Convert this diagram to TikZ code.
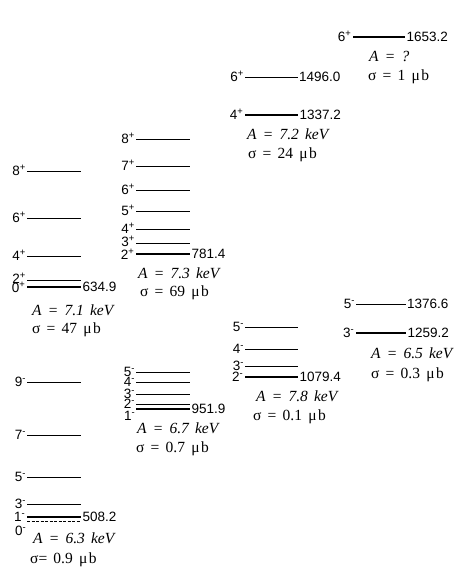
\documentclass[tikz,border=0pt]{standalone}
\usepackage{fontspec}
\setmainfont{Liberation Sans}
\newfontfamily\tms{Liberation Serif}
\usetikzlibrary{positioning}
\tikzset{
  lvl/.style={line width=0.9pt},
  band/.style={line width=2.1pt},
  spin/.style={anchor=base east,yshift=-4.9pt,inner sep=0.6pt,font=\fontsize{13.5}{15}\selectfont},
  en/.style={anchor=base west,yshift=-4.9pt,inner sep=0.6pt,font=\fontsize{13.5}{15}\selectfont},
  par/.style={anchor=west,inner sep=0pt,font=\tms\fontsize{15.5}{17}\selectfont,
    execute at begin node={\spaceskip=0.4em\relax}},
}

\begin{document}
\begin{tikzpicture}[x=1pt,y=-1pt]
  \useasboundingbox (0,0) rectangle (463,569);
  % column 1
  \foreach \y/\j in {171/8,218/6,256/4}
    \draw[lvl] (27,\y) node[spin] (ap\j) {\j\textsuperscript{+}} -- (81,\y);
  \draw[lvl] (27,280) node[spin,yshift=1.5pt] (ap2) {2\textsuperscript{+}} -- (81,280);
  \draw[band] (27,287) node[spin,yshift=-1pt] (ap0) {0\textsuperscript{+}} -- (81,287) node[en] (eap) {634.9};
  \node[par] (aap) at (32,310) {\itshape A = 7.1 keV};
  \node[par] (sap) at (32,330) {σ = 47 μ\kern1.5pt b};
  \foreach \y/\j in {382/9,435/7,477/5,504/3}
    \draw[lvl] (27,\y) node[spin] (am\j) {\j\textsuperscript{-}} -- (81,\y);
  \draw[band] (27,517) node[spin] (am1) {1\textsuperscript{-}} -- (81,517) node[en] (eam) {508.2};
  \draw[lvl,dash pattern=on 3pt off 1.5pt] (27,521.5) -- (81,521.5);
  \node[spin] (am0) at (27,531) {0\textsuperscript{-}};
  \node[par] (aam) at (33,538) {\itshape A = 6.3 keV};
  \node[par] (sam) at (30,560) {σ= 0.9 μ\kern1.5pt b};
  % column 2
  \foreach \y/\j in {139/8,166/7,190/6,211/5,229/4}
    \draw[lvl] (136,\y) node[spin] (bp\j) {\j\textsuperscript{+}} -- (190,\y);
  \draw[lvl] (136,243) node[spin,yshift=1pt] (bp3) {3\textsuperscript{+}} -- (190,243);
  \draw[band] (136,254) node[spin,yshift=-1pt] (bp2) {2\textsuperscript{+}} -- (190,254) node[en] (ebp) {781.4};
  \node[par] (abp) at (138,273) {\itshape A = 7.3 keV};
  \node[par] (sbp) at (140,293) {σ = 69 μ\kern1.5pt b};
  \foreach \y/\j in {372/5,382/4,394/3,404/2}
    \draw[lvl] (136,\y) node[spin] (bm\j) {\j\textsuperscript{-}} -- (190,\y);
  \draw[band] (136,409) -- (190,409) node[en] (ebm) {951.9};
  \node[spin] (bm1) at (136,416) {1\textsuperscript{-}};
  \node[par] (abm) at (137,428) {\itshape A = 6.7 keV};
  \node[par] (sbm) at (136,449) {σ = 0.7 μ\kern1.5pt b};
  % column 3
  \draw[lvl] (245,77) node[spin] (cp6) {6\textsuperscript{+}} -- (298,77) node[en] (ecp6) {1496.0};
  \draw[band] (245,115) node[spin] (cp4) {4\textsuperscript{+}} -- (298,115) node[en] (ecp) {1337.2};
  \node[par] (acp) at (247,134) {\itshape A = 7.2 keV};
  \node[par] (scp) at (248,155) {σ = 24 μ\kern1.5pt b};
  \foreach \y/\j in {327/5,349/4,366/3}
    \draw[lvl] (245,\y) node[spin] (cm\j) {\j\textsuperscript{-}} -- (298,\y);
  \draw[band] (245,377) node[spin] (cm2) {2\textsuperscript{-}} -- (298,377) node[en] (ecm) {1079.4};
  \node[par] (acm) at (256,396) {\itshape A = 7.8 keV};
  \node[par] (scm) at (253,417) {σ = 0.1 μ\kern1.5pt b};
  % column 4
  \draw[band] (353,37) node[spin] (dp6) {6\textsuperscript{+}} -- (405,37) node[en] (edp) {1653.2};
  \node[par] (adp) at (369,56) {\itshape A = ?};
  \node[par] (sdp) at (368,77) {σ = 1 μ\kern1.5pt b};
  \draw[lvl] (356,304) node[spin] (dm5) {5\textsuperscript{-}} -- (406,304) node[en] (edm5) {1376.6};
  \draw[band] (356,333) node[spin] (dm3) {3\textsuperscript{-}} -- (406,333) node[en] (edm) {1259.2};
  \node[par] (adm) at (371,353) {\itshape A = 6.5 keV};
  \node[par] (sdm) at (371,375) {σ = 0.3 μ\kern1.5pt b};
\end{tikzpicture}
\end{document}
